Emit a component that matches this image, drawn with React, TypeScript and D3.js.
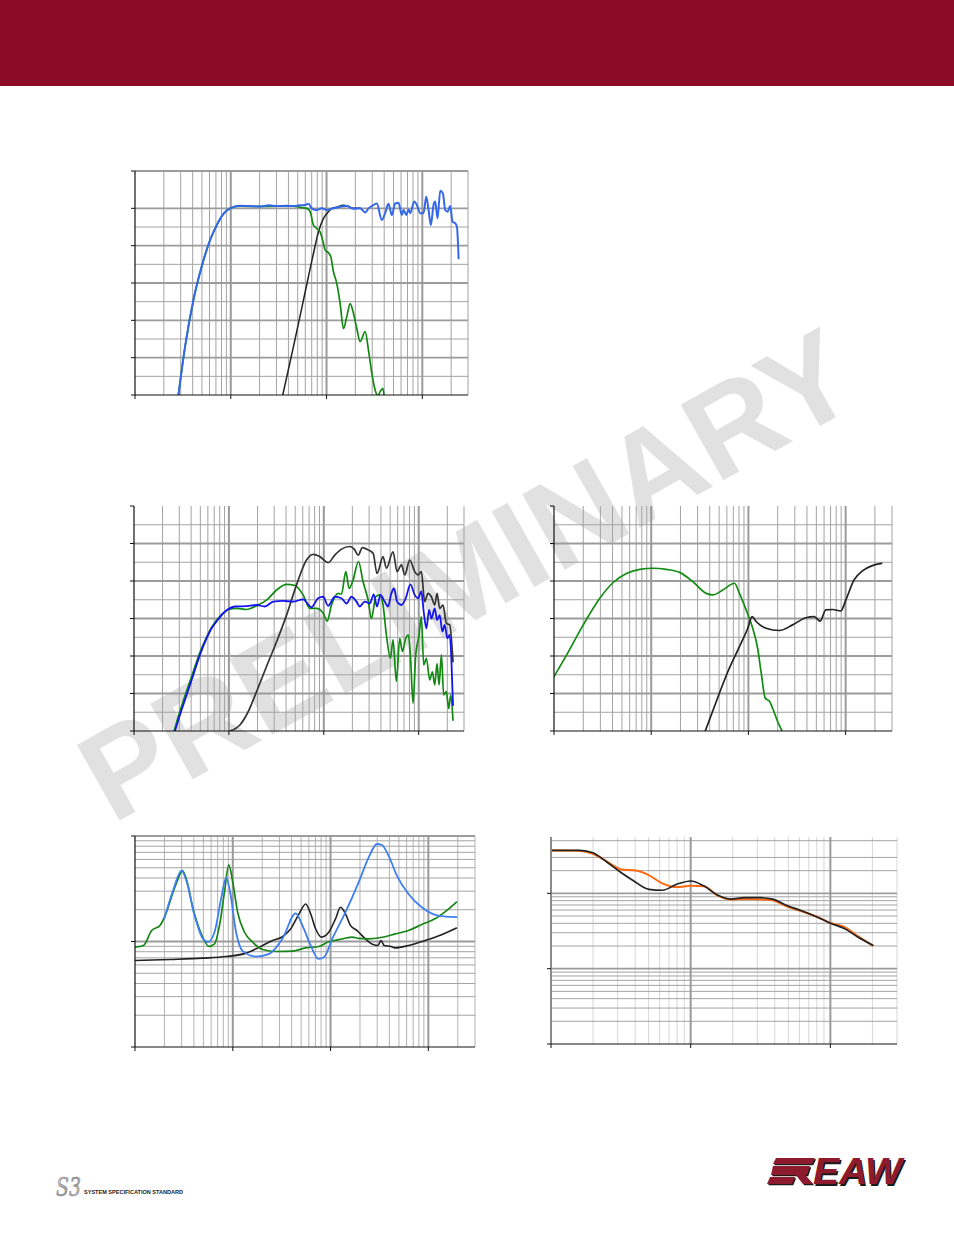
import React from 'react';
import * as d3 from 'd3';

type Pt = [number, number];

// ---------- Chart 1 (frequency response, dB) ----------
const c1Blue: Pt[] = [[28.4,-50],[33.3,-37.1],[40.7,-24.6],[49.7,-15.6],[60.8,-8.5],[71.4,-4.5],[83.7,-1.5],[102,0.2],[125,0.7],[160,0.6],[200,0.5],[250,0.8],[300,0.6],[380,0.7],[450,0.6],[520,0.8],[597,0.9],[647,1.2],[702,0.0],[791,-0.45],[893,0.0],[1007,-0.45],[1181,0.0],[1387,0.45],[1628,0.6],[1910,-0.1],[2244,0.0],[2532,-1.1],[2742,0.0],[3092,0.9],[3350,1.3],[3777,-3.1],[4093,-1.3],[4434,1.2],[4806,-1.8],[5208,1.3],[5645,1.5],[6114,-1.8],[6368,-0.45],[6792,-1.8],[7185,-0.3],[7479,-1.3],[8228,1.8],[8770,0.9],[9504,-1.3],[10300,-1.3],[10990,3.1],[11620,-0.45],[12280,-4.5],[13100,0.9],[13640,1.8],[14420,-2.7],[15380,4.7],[16400,4.0],[17340,-0.45],[18350,-0.9],[19570,0.6],[20700,-3.6],[22080,-4.0],[22980,-4.9],[23920,-13.4]];
const c1Green: Pt[] = [[28.4,-50],[33.3,-37.1],[40.7,-24.6],[49.7,-15.6],[60.8,-8.5],[71.4,-4.5],[83.7,-1.5],[102,0.2],[125,0.6],[200,0.5],[300,0.6],[450,0.6],[551,0.2],[622,0.0],[674,-0.9],[730,-4.5],[791,-5.4],[857,-6.3],[929,-9.4],[967,-11.2],[1047,-11.9],[1109,-13.0],[1181,-17.0],[1279,-20.1],[1387,-25.5],[1503,-32.2],[1628,-29.0],[1765,-25.5],[1910,-28.1],[2070,-32.2],[2244,-35.7],[2532,-33.0],[2742,-38.0],[2972,-44.2],[3221,-48.7],[3435,-50.2],[3631,-49.1],[3873,-48.2],[3999,-50.5]];
const c1Black: Pt[] = [[349,-50],[451,-37.1],[574,-24.6],[730,-12.1],[824,-6.3],[929,-2.7],[1047,-0.9],[1135,-0.1],[1279,0.3],[1503,0.8],[1700,0.5],[1910,0.0],[2244,0.0]];

// ---------- Chart 2 (dB) ----------
const c2Blue: Pt[] = [[27,-50],[30.5,-45.7],[35.8,-40.4],[42.1,-35.1],[49.5,-29.7],[58.2,-25.3],[65.7,-22.6],[74.1,-20.8],[87.1,-18.6],[98.4,-17.5],[115.6,-16.8],[153.6,-16.7],[195.6,-16.4],[239,-16.8],[293,-15.5],[373,-15.3],[475,-15.5],[605,-14.9],[741,-17.0],[871,-14.6],[984,-14.2],[1111,-16.6],[1306,-14.2],[1535,-14.6],[1733,-16.0],[1955,-14.2],[2208,-15.5],[2393,-16.8],[2703,-15.5],[3050,-16.0],[3360,-13.6],[3640,-16.8],[3945,-13.7],[4383,-15.5],[4750,-16.8],[5150,-13.3],[5497,-12.0],[5912,-15.5],[6570,-16.4],[7300,-14.6],[8170,-10.9],[9080,-13.7],[9840,-14.6],[10660,-12.8],[11290,-18.2],[12050,-22.6],[12850,-17.7],[13600,-20.0],[14740,-17.3],[15600,-20.4],[16640,-19.1],[17750,-23.5],[18790,-21.7],[20040,-25.3],[21200,-24.4],[22070,-30.6],[22970,-43.1]];
const c2Black: Pt[] = [[102,-50],[130.6,-48.4],[160,-44.8],[195.6,-39.5],[249,-32.8],[318,-26.2],[405,-19.1],[515,-11.1],[657,-4.4],[772,-2.9],[907,-3.5],[1111,-5.1],[1306,-3.1],[1535,-1.5],[1880,-0.8],[2120,-1.7],[2297,-3.1],[2552,-1.1],[2930,-1.7],[3306,-2.6],[3640,-8.0],[4209,-3.5],[4566,-6.6],[5365,-2.2],[5912,-7.5],[6570,-5.7],[7124,-8.4],[8040,-4.4],[9080,-7.5],[9840,-8.4],[10660,-7.5],[11550,-15.5],[12520,-13.3],[13600,-14.2],[14740,-16.4],[15600,-13.3],[16640,-17.3],[18040,-16.4],[19550,-21.3],[21200,-21.7],[22970,-31.5]];
const c2Green: Pt[] = [[26.5,-50],[30.2,-45.0],[35.5,-39.6],[41.8,-34.4],[49.2,-29.2],[58,-25.0],[65.7,-22.4],[74.1,-20.5],[87.1,-18.6],[98.4,-17.6],[120.5,-17.3],[153.6,-17.6],[195.6,-16.6],[249,-15.1],[318,-12.4],[405,-10.9],[496,-11.2],[605,-13.7],[713,-17.3],[837,-17.3],[984,-18.6],[1084,-20.7],[1205,-16.4],[1416,-13.3],[1535,-13.5],[1706,-7.5],[1849,-12.0],[2037,-9.7],[2316,-4.8],[2594,-10.2],[2930,-15.1],[3175,-20.0],[3527,-14.2],[3884,-13.7],[4209,-16.4],[4566,-24.4],[5035,-30.6],[5365,-25.7],[5815,-36.8],[6310,-25.3],[6730,-28.8],[7300,-25.3],[7780,-24.4],[8240,-31.5],[8710,-42.6],[9300,-29.7],[10090,-24.4],[10660,-19.5],[11290,-32.4],[12050,-30.6],[13060,-36.4],[13940,-34.2],[14740,-37.7],[15600,-32.0],[16380,-37.7],[17340,-29.7],[18330,-40.4],[19550,-39.5],[20700,-44.0],[21730,-40.4],[22970,-47.1]];

// ---------- Chart 3 (dB) ----------
const c3Green: Pt[] = [[10,-35.5],[13.5,-29.7],[20,-21.7],[29.6,-14.6],[40.6,-10.4],[55.6,-8.0],[76.3,-6.9],[104.5,-6.6],[143,-6.9],[196,-7.7],[268.5,-10.2],[368,-13.3],[431,-13.7],[545,-12.4],[718,-10.6],[809,-13.3],[947,-17.7],[1107,-22.6],[1246,-28.0],[1349,-34.2],[1494,-41.3],[1641,-42.0],[1778,-44.0],[2000,-47.5],[2250,-50.3]];
const c3Black: Pt[] = [[360,-50],[466,-42.2],[614,-34.2],[809,-27.5],[985,-22.6],[1091,-19.5],[1200,-20.8],[1518,-22.6],[2080,-23.2],[2851,-21.7],[3900,-19.8],[4750,-19.5],[5470,-20.7],[6260,-17.7],[7330,-17.6],[8920,-18.0],[10040,-15.1],[12220,-9.7],[14890,-7.3],[18850,-5.9],[23500,-5.3]];

// ---------- Chart 4 (impedance, log) ----------
const c4Green: Pt[] = [[10,8.84],[12.2,9.17],[14.8,12.7],[18,14.2],[21,19.0],[24.5,29.3],[27.6,39.2],[30.5,47],[33.5,39.2],[39.2,20.4],[47.6,11.8],[57,9.0],[65.1,9.5],[73.1,14.2],[82.2,29.3],[91,53.2],[100,36.5],[112,19.0],[131.5,12.3],[159.6,9.86],[202,8.4],[276,8.04],[408,8.1],[557,8.7],[761,8.97],[925,9.85],[1216,10.4],[1660,11.0],[1942,10.7],[2455,10.6],[3623,11.1],[4580,11.8],[6266,12.7],[8560,14.5],[11690,16.4],[15350,19.6],[19400,23.6]];
const c4Blue: Pt[] = [[19.9,16.4],[24.5,30.4],[29.9,47],[33.5,37.8],[40.7,17.6],[49.5,10.6],[55.7,9.86],[65.1,12.3],[76,25.4],[85.5,40.6],[94,29.3],[108,12.3],[126.5,8.1],[172.6,7.2],[236,7.64],[322,10.6],[440,18.5],[515,14.2],[626,9.17],[750,6.85],[856,7.1],[1040,10.6],[1422,19.0],[1942,36.5],[2455,62.8],[2985,84],[3350,82.2],[3920,65.2],[4765,42.2],[6266,28.2],[8560,21.1],[12650,17.6],[19400,17.0]];
const c4Black: Pt[] = [[10,6.61],[22.7,6.76],[49.5,6.95],[85.5,7.2],[137,7.76],[187,8.84],[255,10.2],[322,11.1],[392,13.2],[476,18.3],[557,22.7],[626,18.3],[703,13.2],[809,11.0],[961,12.3],[1124,16.4],[1264,21.1],[1422,18.3],[1597,14.2],[1867,12.7],[2270,10.6],[2761,9.3],[3055,9.17],[3275,10.2],[3540,9.17],[4075,9.0],[4580,8.7],[6266,9.17],[9250,10.2],[13680,11.6],[19400,13.4]];

// ---------- Chart 5 (beamwidth, log) ----------
const c5Orange: Pt[] = [[100,371],[158,368],[197,338],[252,264],[315,209],[414,199],[489,179],[626,136],[802,121],[1000,126],[1247,124],[1553,94],[1936,83],[2553,84],[3750,81.5],[4940,66.4],[6158,58.1],[8110,48.3],[10000,40.6],[12600,36],[15700,27],[20130,20.3]];
const c5Black: Pt[] = [[100,371],[158,371],[197,348],[252,259],[315,191],[392,146],[502,113],[626,110],[802,133],[1000,146],[1247,125],[1553,95],[1936,84],[2415,87.5],[3179,87.5],[3853,84],[4940,68.5],[6158,59.3],[8110,48.3],[10000,40.2],[12600,34.1],[15700,26.4],[20130,20.5]];

// ---------- grid / tick values ----------
const dbMajor1 = [-40, -30, -20, -10, 0, 10];
const dbMinor1 = [-45, -35, -25, -15, -5];
const dbMajor23 = [-40, -30, -20, -10, 0];
const dbMinor23 = [-45, -35, -25, -15, -5, 5];
const dbTicks = [-50, -40, -30, -20, -10, 0, 10];
const impMajor = [10, 100];
const impMinor = [2, 3, 4, 5, 6, 7, 8, 9, 20, 30, 40, 50, 60, 70, 80, 90];
const impTicks = [1, 10, 100];
const bwMajor = [10, 100];
const bwMinor = [2, 3, 4, 5, 6, 7, 8, 9, 20, 30, 40, 50, 60, 70, 80, 90, 200, 300, 500];
const bwTicks = [1, 10, 100];

interface Series { data: Pt[]; color: string; width: number }
interface ChartProps {
  id: string; l: number; r: number; t: number; b: number;
  xDomain: [number, number]; yDomain: [number, number]; yLog?: boolean;
  yMajor: number[]; yMinor: number[]; yTicks: number[];
  xMinorColor?: string; leftAxisColor?: string; leftAxisWidth?: number;
  series: Series[];
}

function Chart(p: ChartProps) {
  const x = d3.scaleLog().domain(p.xDomain).range([p.l, p.r]);
  const y: any = p.yLog
    ? d3.scaleLog().domain(p.yDomain).range([p.b, p.t])
    : d3.scaleLinear().domain(p.yDomain).range([p.b, p.t]);
  const [lo, hi] = p.xDomain;
  const decades: number[] = [];
  const minors: number[] = [];
  for (let e = Math.floor(Math.log10(lo)); Math.pow(10, e) <= hi; e++) {
    const base = Math.pow(10, e);
    if (base > lo * 1.0001) decades.push(base);
    for (let k = 2; k <= 9; k++) {
      const v = k * base;
      if (v > lo * 1.0001 && v <= hi * 1.0001) minors.push(v);
    }
  }
  const line = d3.line<Pt>().x(d => x(d[0])).y(d => y(d[1])).curve(d3.curveMonotoneX);
  const gridC = '#a3a3a3';
  return (
    <g>
      <clipPath id={p.id}>
        <rect x={p.l} y={p.t - 1} width={p.r - p.l} height={p.b - p.t + 1} />
      </clipPath>
      {minors.map(v => (
        <line key={'xm' + v} x1={x(v)} x2={x(v)} y1={p.t} y2={p.b} stroke={p.xMinorColor || gridC} strokeWidth={1} />
      ))}
      {p.yMinor.map(v => (
        <line key={'ym' + v} x1={p.l} x2={p.r} y1={y(v)} y2={y(v)} stroke={gridC} strokeWidth={1} />
      ))}
      {p.yMajor.map(v => (
        <line key={'yM' + v} x1={p.l} x2={p.r} y1={y(v)} y2={y(v)} stroke="#9c9c9c" strokeWidth={1.8} />
      ))}
      {decades.map(v => (
        <line key={'xM' + v} x1={x(v)} x2={x(v)} y1={p.t} y2={p.b} stroke="#9a9a9a" strokeWidth={2} />
      ))}
      <g clipPath={`url(#${p.id})`}>
        {p.series.map((s, i) => (
          <path key={i} d={line(s.data) || ''} fill="none" stroke={s.color} strokeWidth={s.width} strokeLinejoin="round" strokeLinecap="round" />
        ))}
      </g>
      <line x1={p.l} x2={p.l} y1={p.t} y2={p.b} stroke={p.leftAxisColor || '#111'} strokeWidth={p.leftAxisWidth || 1.2} />
      <line x1={p.l} x2={p.r} y1={p.b} y2={p.b} stroke="#111" strokeWidth={1.2} />
      {p.yTicks.map(v => (
        <line key={'yt' + v} x1={p.l - 4} x2={p.l} y1={y(v)} y2={y(v)} stroke="#111" strokeWidth={1} />
      ))}
      {[lo, ...decades].map(v => (
        <line key={'xt' + v} x1={x(v)} x2={x(v)} y1={p.b} y2={p.b + 4} stroke="#111" strokeWidth={1} />
      ))}
    </g>
  );
}

export default function App() {
  return (
    <svg width={954} height={1235} viewBox="0 0 954 1235"
      style={{ position: 'absolute', left: 0, top: 0, display: 'block', background: '#fff' }}
      fontFamily="'Liberation Sans', Arial, sans-serif">
      <defs>
        <linearGradient id="s3g" x1="0" y1="0" x2="1" y2="1">
          <stop offset="0" stopColor="#e4e4e4" />
          <stop offset="0.5" stopColor="#9a9a9a" />
          <stop offset="1" stopColor="#d0d0d0" />
        </linearGradient>
      </defs>
      <rect x={0} y={0} width={954} height={1235} fill="#fff" />
      <rect x={0} y={0} width={954} height={86} fill="#8c0c27" />

      {/* watermark */}
      <text x={467} y={575} transform="rotate(-29.4 467 575)" textAnchor="middle" dominantBaseline="central"
        fontWeight="bold" fontSize={126} fill="#e1e1e1">PRELIMINARY</text>

      <Chart id="c1" l={135} r={468} t={171} b={395} xDomain={[10, 30000]} yDomain={[-50, 10]}
        yMajor={dbMajor1} yMinor={dbMinor1} yTicks={dbTicks}
        series={[
          { data: c1Black, color: '#222', width: 1.5 },
          { data: c1Green, color: '#138813', width: 1.7 },
          { data: c1Blue, color: '#3468ea', width: 2 },
        ]} />
      <Chart id="c2" l={134} r={464} t={506} b={731} xDomain={[10, 30000]} yDomain={[-50, 10]}
        yMajor={dbMajor23} yMinor={dbMinor23} yTicks={dbTicks}
        series={[
          { data: c2Green, color: '#128a12', width: 1.7 },
          { data: c2Black, color: '#333', width: 1.7 },
          { data: c2Blue, color: '#1414f0', width: 1.8 },
        ]} />
      <Chart id="c3" l={554} r={892} t={506} b={731} xDomain={[10, 30000]} yDomain={[-50, 10]}
        yMajor={dbMajor23} yMinor={dbMinor23} yTicks={dbTicks}
        series={[
          { data: c3Green, color: '#138c13', width: 1.7 },
          { data: c3Black, color: '#222', width: 1.7 },
        ]} />
      <Chart id="c4" l={135} r={475} t={836} b={1047} xDomain={[10, 30000]} yDomain={[1, 100]} yLog
        yMajor={impMajor} yMinor={impMinor} yTicks={impTicks} xMinorColor="#b4b4b4"
        series={[
          { data: c4Black, color: '#222', width: 1.6 },
          { data: c4Green, color: '#168416', width: 1.7 },
          { data: c4Blue, color: '#3f7ff0', width: 1.8 },
        ]} />
      <Chart id="c5" l={551} r={897} t={837} b={1044} xDomain={[100, 30000]} yDomain={[1, 560]} yLog
        yMajor={bwMajor} yMinor={bwMinor} yTicks={bwTicks} xMinorColor="#d6d6d6" leftAxisColor="#8a8a8a" leftAxisWidth={2}
        series={[
          { data: c5Orange, color: '#ff6a10', width: 2 },
          { data: c5Black, color: '#222', width: 1.7 },
        ]} />

      {/* S3 logo */}
      <text x={56} y={1196} fontSize={26} fontStyle="italic" fontFamily="'DejaVu Serif', serif" fill="url(#s3g)" stroke="#7a7a7a" strokeWidth={0.5} textLength={25} lengthAdjust="spacingAndGlyphs">S3</text>
      <text x={84} y={1193.5} fontSize={5.6} fontWeight="bold" fill="#222" textLength={99} lengthAdjust="spacingAndGlyphs">SYSTEM SPECIFICATION STANDARD</text>

      {/* EAW logo */}
      <g fill="#1a1a1a" transform="translate(1.2,1.2)">
        <polygon points="776,1158 815,1158 812,1164 773,1164" />
        <polygon points="773,1166 810,1166 807,1175 771,1175" />
        <polygon points="796,1175 805,1175 813,1184 803,1184" />
        <polygon points="770,1177 795,1177 792,1184 767,1184" />
      </g>
      <g fill="#8e1a2e">
        <polygon points="776,1158 815,1158 812,1164 773,1164" />
        <polygon points="773,1166 810,1166 807,1175 771,1175" />
        <polygon points="796,1175 805,1175 813,1184 803,1184" />
        <polygon points="770,1177 795,1177 792,1184 767,1184" />
      </g>
      <text x={814.5} y={1185.5} fontSize={36} fontWeight="bold" fontStyle="italic" fill="#1a1a1a" textLength={89} lengthAdjust="spacingAndGlyphs">EAW</text>
      <text x={813} y={1184} fontSize={36} fontWeight="bold" fontStyle="italic" fill="#8e1a2e" textLength={89} lengthAdjust="spacingAndGlyphs">EAW</text>
    </svg>
  );
}
